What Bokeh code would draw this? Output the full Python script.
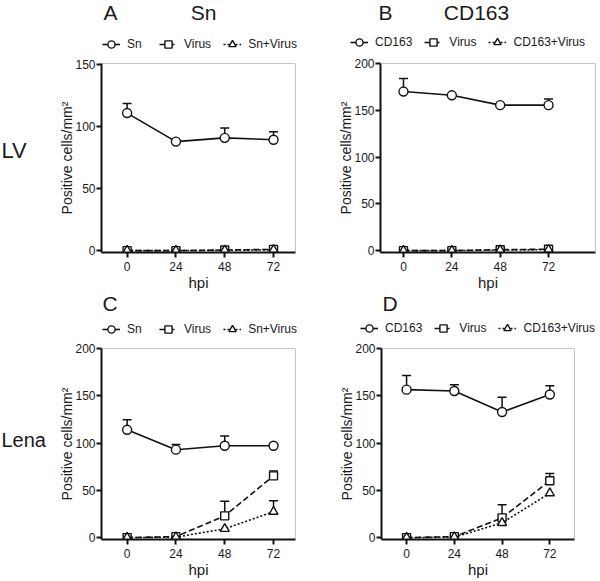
import numpy as np
from bokeh.plotting import figure
from bokeh.models import (ColumnDataSource, Whisker, TeeHead, Legend, LegendItem,
                          Span, FixedTicker, Range1d)
from bokeh.layouts import row, column
from bokeh.embed import file_html
from bokeh.resources import INLINE
from bokeh.core.properties import value

FONT = "Liberation Sans"

hpi = [0, 24, 48, 72]

# Panel A: LV, Sn
a_names = ["Sn", "Virus", "Sn+Virus"]
a_main = [111, 88, 91, 89.5]
a_main_err = [7.8, 1.2, 8, 6.4]
a_virus = [0, 0, 0.5, 1.0]
a_virus_err = [0, 0, 0, 0]
a_both = [0, 0, 0.3, 0.6]
a_both_err = [0, 0, 0, 0]
a_yticks = [0, 50, 100, 150]

# Panel B: LV, CD163
b_names = ["CD163", "Virus", "CD163+Virus"]
b_main = [170, 166, 155.5, 155.5]
b_main_err = [14, 1, 0.8, 6.5]
b_virus = [0, 0, 1.0, 1.5]
b_virus_err = [0, 0, 0, 0]
b_both = [0, 0, 0.5, 1.0]
b_both_err = [0, 0, 0, 0]
b_yticks = [0, 50, 100, 150, 200]

# Panel C: Lena, Sn
c_names = ["Sn", "Virus", "Sn+Virus"]
c_main = [114, 93, 97.2, 97.2]
c_main_err = [10.7, 5.6, 10.3, 1]
c_virus = [0, 1, 23, 65.3]
c_virus_err = [0, 0.5, 15.5, 5.2]
c_both = [0, 0.5, 9.3, 27.4]
c_both_err = [0, 0, 0, 11.6]
c_yticks = [0, 50, 100, 150, 200]

# Panel D: Lena, CD163
d_names = ["CD163", "Virus", "CD163+Virus"]
d_main = [156.5, 155, 132.8, 151.3]
d_main_err = [14.9, 6.7, 15.7, 9.4]
d_virus = [0, 1, 20.9, 60.2]
d_virus_err = [0, 0, 13.9, 7.6]
d_both = [0, 0.5, 15.6, 47]
d_both_err = [0, 0, 0, 0]
d_yticks = [0, 50, 100, 150, 200]

panel_letters = ["A", "B", "C", "D"]
panel_titles = ["Sn", "CD163"]
row_labels = ["LV", "Lena"]

DASHES = ["solid", "6 3", "2 2"]
MARKERS = ["circle", "square", "triangle"]
MSIZES = [9, 8, 9]
INK = "#1a1a1a"
LINE = "#111111"


def style_series(p, i, src):
    lr = p.line("x", "y", source=src, line_color=LINE, line_width=1.6,
                line_dash=DASHES[i])
    sr = p.scatter("x", "y", source=src, marker=MARKERS[i], size=MSIZES[i],
                   fill_color="white", line_color=LINE, line_width=1.4)
    return lr, sr


def make_panel(series, errs, yticks, x_range, y_range, w, h, bl, br, bt, fh):
    bb = h - bt - fh
    p = figure(width=w, height=h, x_range=x_range, y_range=y_range,
               output_backend="svg", toolbar_location=None,
               min_border_left=bl, min_border_right=br,
               min_border_top=bt, min_border_bottom=bb)
    p.outline_line_color = None
    p.grid.visible = False

    p.xaxis.ticker = FixedTicker(ticks=hpi)
    p.xaxis.axis_label = "hpi"
    p.yaxis.ticker = FixedTicker(ticks=yticks)
    p.yaxis.axis_label = "Positive cells/mm\u00b2"
    for ax in p.axis:
        ax.axis_line_width = 2
        ax.axis_line_color = LINE
        ax.major_tick_line_width = 2
        ax.major_tick_line_color = LINE
        ax.major_tick_out = 5
        ax.major_tick_in = 0
        ax.minor_tick_out = 0
        ax.minor_tick_in = 0
        ax.major_label_text_font = FONT
        ax.major_label_text_font_size = "12px"
        ax.major_label_text_color = INK
        ax.axis_label_text_font = FONT
        ax.axis_label_text_font_style = "normal"
        ax.axis_label_text_color = INK
    p.xaxis.axis_label_standoff = 0
    p.yaxis.axis_label_standoff = -3
    p.xaxis.major_label_standoff = 4
    p.yaxis.major_label_standoff = 1
    p.xaxis.axis_label_text_font_size = "15px"
    p.yaxis.axis_label_text_font_size = "14px"

    p.add_layout(Span(location=y_range[1], dimension="width",
                      line_color="#8a8a8a", line_width=1))
    p.add_layout(Span(location=x_range[1], dimension="height",
                      line_color="#8a8a8a", line_width=1))

    for i, (ys, es) in enumerate(zip(series, errs)):
        src = ColumnDataSource(dict(x=hpi, y=ys))
        ex = [x for x, e in zip(hpi, es) if e > 0]
        el = [y for y, e in zip(ys, es) if e > 0]
        eu = [y + e for y, e in zip(ys, es) if e > 0]
        if ex:
            wsrc = ColumnDataSource(dict(x=ex, lo=el, up=eu))
            p.add_layout(Whisker(source=wsrc, base="x", lower="lo", upper="up",
                                 dimension="height", line_width=1.5,
                                 line_color=LINE, lower_head=None,
                                 upper_head=TeeHead(size=9, line_width=1.5,
                                                    line_color=LINE)))
        style_series(p, i, src)
    return p


def text_strip(w, h, xs, ys, texts, aligns, sizes):
    p = figure(width=w, height=h, x_range=Range1d(0, w), y_range=Range1d(h, 0),
               output_backend="svg", toolbar_location=None,
               x_axis_type=None, y_axis_type=None, min_border=0)
    p.outline_line_color = None
    p.grid.visible = False
    for x, y, t, a, s in zip(xs, ys, texts, aligns, sizes):
        p.text(x=[x], y=[y], text=[t], text_align=a, text_baseline="middle",
               text_font=value(FONT), text_font_size=s, text_color=INK)
    return p


def add_legend(p, names, lx, ly):
    # legend keys styled like the panel's series (proxy renderers, nothing drawn)
    items = []
    for i, n in enumerate(names):
        src = ColumnDataSource(dict(x=np.array([np.nan]), y=np.array([np.nan])))
        lr, sr = style_series(p, i, src)
        items.append(LegendItem(label=n, renderers=[lr, sr]))
    leg = Legend(items=items, location=(lx, ly),
                 orientation="horizontal", glyph_width=18, glyph_height=20,
                 label_height=20, label_standoff=7, spacing=12, padding=0,
                 margin=0, border_line_color=None, background_fill_alpha=0,
                 label_text_font=FONT, label_text_font_size="12px",
                 label_text_color=INK)
    p.add_layout(leg)


W = 598
hdr1 = text_strip(W, 55, [103, 203, 378, 476], [12, 12, 12, 12],
                  [panel_letters[0], panel_titles[0], panel_letters[1], panel_titles[1]],
                  ["left", "center", "left", "center"], ["21px"] * 4)
add_legend(hdr1, a_names, 102, 1)
add_legend(hdr1, b_names, 350, 3)

hdr2 = text_strip(W, 46, [102, 382], [10, 10],
                  [panel_letters[2], panel_letters[3]], ["left", "left"], ["21px"] * 2)
add_legend(hdr2, c_names, 102, 0)
add_legend(hdr2, d_names, 360, 1)

side1 = text_strip(50, 238, [1], [109], [row_labels[0]], ["left"], ["22px"])
side2 = text_strip(50, 241, [1], [116], [row_labels[1]], ["left"], ["20px"])

pA = make_panel([a_main, a_virus, a_both], [a_main_err, a_virus_err, a_both_err],
                a_yticks, (-12.6, 82.8), (-1.5, 151), 250, 238, 51, 5, 8, 192)
pB = make_panel([b_main, b_virus, b_both], [b_main_err, b_virus_err, b_both_err],
                b_yticks, (-11.4, 95.3), (-2, 200), 298, 238, 80, 3, 7, 194)
pC = make_panel([c_main, c_virus, c_both], [c_main_err, c_virus_err, c_both_err],
                c_yticks, (-12.6, 82.8), (-2, 200), 250, 241, 51, 5, 5, 196)
pD = make_panel([d_main, d_virus, d_both], [d_main_err, d_virus_err, d_both_err],
                d_yticks, (-12.6, 84.4), (-2, 200), 298, 241, 81, 24, 9, 194)

layout = column(hdr1, row(side1, pA, pB), hdr2, row(side2, pC, pD))

with open("out.html", "w") as f:
    f.write(file_html(layout, INLINE))
